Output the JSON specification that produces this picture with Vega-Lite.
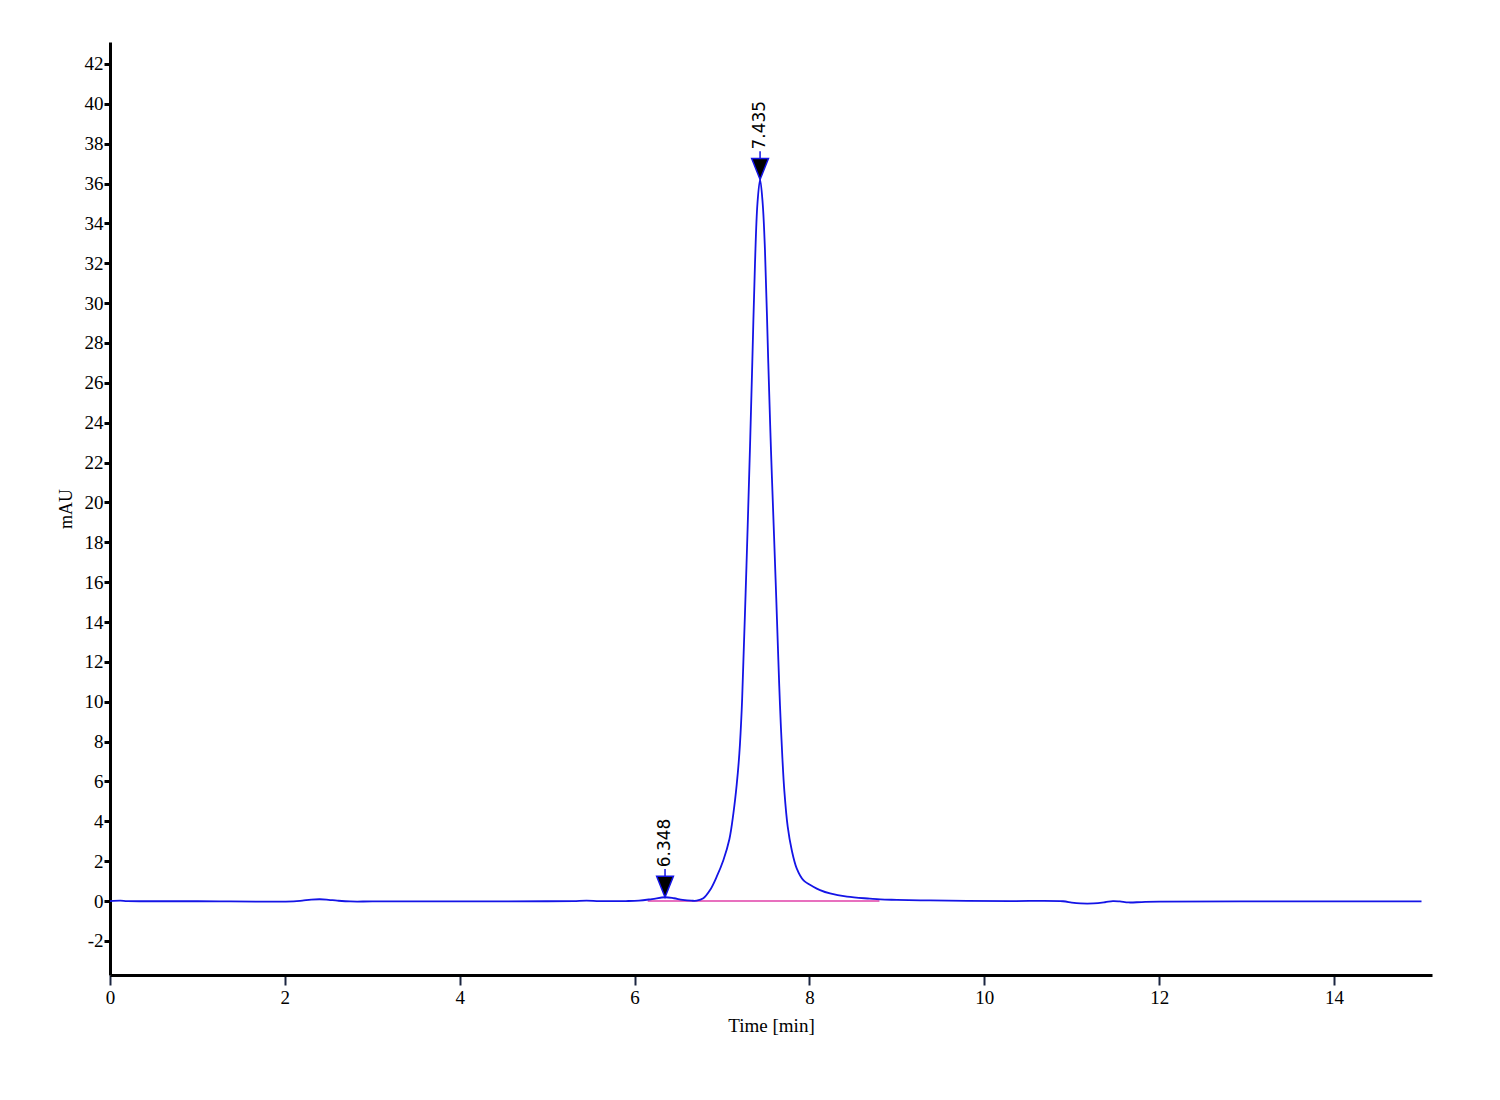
{
  "$schema": "https://vega.github.io/schema/vega-lite/v6.json",
  "description": "chromatogram with two labelled peaks",
  "autosize": "none",
  "width": 1322,
  "height": 933,
  "padding": {"left": 110, "top": 42, "right": 68, "bottom": 125},
  "background": "#ffffff",
  "config": {
    "view": {"stroke": null},
    "axis": {
      "grid": false,
      "domainColor": "#000000",
      "labelColor": "#000000",
      "titleColor": "#000000"
    }
  },
  "datasets": {
    "trace": [
      {"t": 0.0, "v": 0.0}, {"t": 0.12, "v": 0.02}, {"t": 0.2, "v": 0.0},
      {"t": 1.0, "v": -0.01}, {"t": 2.1, "v": -0.02}, {"t": 2.2, "v": 0.02},
      {"t": 2.3, "v": 0.07}, {"t": 2.4, "v": 0.09}, {"t": 2.5, "v": 0.06},
      {"t": 2.6, "v": 0.02}, {"t": 2.75, "v": -0.02}, {"t": 3.0, "v": -0.02},
      {"t": 4.0, "v": -0.02}, {"t": 5.0, "v": -0.01}, {"t": 5.3, "v": 0.0},
      {"t": 5.45, "v": 0.02}, {"t": 5.6, "v": 0.0}, {"t": 5.9, "v": 0.0},
      {"t": 6.05, "v": 0.02}, {"t": 6.2, "v": 0.1}, {"t": 6.348, "v": 0.19},
      {"t": 6.45, "v": 0.14}, {"t": 6.55, "v": 0.06}, {"t": 6.65, "v": 0.02},
      {"t": 6.71, "v": 0.02}, {"t": 6.786, "v": 0.14}, {"t": 6.863, "v": 0.55},
      {"t": 6.939, "v": 1.22}, {"t": 7.016, "v": 2.06}, {"t": 7.084, "v": 3.1},
      {"t": 7.13, "v": 4.4}, {"t": 7.168, "v": 5.85}, {"t": 7.198, "v": 7.4},
      {"t": 7.225, "v": 9.6}, {"t": 7.244, "v": 12.0}, {"t": 7.27, "v": 15.5},
      {"t": 7.294, "v": 18.9}, {"t": 7.32, "v": 22.8}, {"t": 7.346, "v": 27.0},
      {"t": 7.377, "v": 32.0}, {"t": 7.405, "v": 35.0}, {"t": 7.435, "v": 36.2},
      {"t": 7.465, "v": 35.0}, {"t": 7.491, "v": 32.66}, {"t": 7.529, "v": 27.0},
      {"t": 7.56, "v": 22.6}, {"t": 7.595, "v": 18.3}, {"t": 7.62, "v": 15.2},
      {"t": 7.644, "v": 12.1}, {"t": 7.663, "v": 9.8}, {"t": 7.69, "v": 7.2},
      {"t": 7.713, "v": 5.5}, {"t": 7.751, "v": 3.73}, {"t": 7.797, "v": 2.56},
      {"t": 7.854, "v": 1.64}, {"t": 7.93, "v": 1.05}, {"t": 8.044, "v": 0.72},
      {"t": 8.121, "v": 0.55}, {"t": 8.235, "v": 0.38}, {"t": 8.43, "v": 0.22},
      {"t": 8.69, "v": 0.12}, {"t": 8.81, "v": 0.08},
      {"t": 9.0, "v": 0.06}, {"t": 9.38, "v": 0.03}, {"t": 9.8, "v": 0.01},
      {"t": 10.3, "v": 0.0}, {"t": 10.9, "v": -0.01}, {"t": 11.0, "v": -0.08},
      {"t": 11.1, "v": -0.12}, {"t": 11.25, "v": -0.12}, {"t": 11.38, "v": -0.06},
      {"t": 11.47, "v": 0.0}, {"t": 11.55, "v": -0.02}, {"t": 11.65, "v": -0.07},
      {"t": 11.8, "v": -0.05}, {"t": 12.0, "v": -0.03}, {"t": 13.0, "v": -0.02},
      {"t": 15.0, "v": -0.02}
    ],
    "baseline": [
      {"t": 6.15, "v": 0.0}, {"t": 8.8, "v": 0.0}
    ],
    "peaks": [
      {"t": 6.348, "v": 0.19, "label": "6.348"},
      {"t": 7.435, "v": 36.2, "label": "7.435"}
    ]
  },
  "encoding": {
    "x": {
      "field": "t", "type": "quantitative",
      "scale": {"domain": [0, 15.12], "nice": false, "zero": false},
      "axis": {
        "title": "Time [min]",
        "values": [0, 2, 4, 6, 8, 10, 12, 14],
        "labelExpr": "'' + datum.value",
        "labelFlush": false,
        "labelFont": "Liberation Serif",
        "labelFontSize": 19,
        "titleFont": "Liberation Serif",
        "titleFontSize": 19,
        "titleFontWeight": "normal",
        "domainWidth": 3,
        "tickColor": "#1a2540",
        "tickWidth": 2,
        "tickSize": 10,
        "labelPadding": 3,
        "titlePadding": 9
      }
    },
    "y": {
      "field": "v", "type": "quantitative",
      "scale": {"domain": [-3.71, 43.1], "nice": false, "zero": false},
      "axis": {
        "title": "mAU",
        "values": [-2, 0, 2, 4, 6, 8, 10, 12, 14, 16, 18, 20, 22, 24, 26, 28, 30, 32, 34, 36, 38, 40, 42],
        "labelExpr": "'' + datum.value",
        "labelFlush": false,
        "labelFont": "Liberation Serif",
        "labelFontSize": 19,
        "titleFont": "Liberation Serif",
        "titleFontSize": 18,
        "titleFontWeight": "normal",
        "domainWidth": 3,
        "tickColor": "#000000",
        "tickWidth": 3,
        "tickSize": 6,
        "labelPadding": 1,
        "titlePadding": 9
      }
    }
  },
  "layer": [
    {
      "data": {"name": "baseline"},
      "mark": {"type": "line", "color": "#e040a8", "strokeWidth": 1.5}
    },
    {
      "data": {"name": "trace"},
      "mark": {"type": "line", "color": "#1414e6", "strokeWidth": 1.8, "interpolate": "catmull-rom"}
    },
    {
      "data": {"name": "peaks"},
      "mark": {
        "type": "point",
        "shape": "M -0.8 -2 L 0.8 -2 L 0 0 Z M 0 -2 L 0 -2.7",
        "size": 440,
        "filled": true,
        "fill": "#000000",
        "stroke": "#1414e6",
        "strokeWidth": 1.5,
        "opacity": 1
      }
    },
    {
      "data": {"name": "peaks"},
      "mark": {
        "type": "text",
        "angle": 270,
        "align": "left",
        "baseline": "middle",
        "dx": 30,
        "font": "DejaVu Sans",
        "fontSize": 17,
        "color": "#000000"
      },
      "encoding": {"text": {"field": "label"}}
    }
  ]
}
